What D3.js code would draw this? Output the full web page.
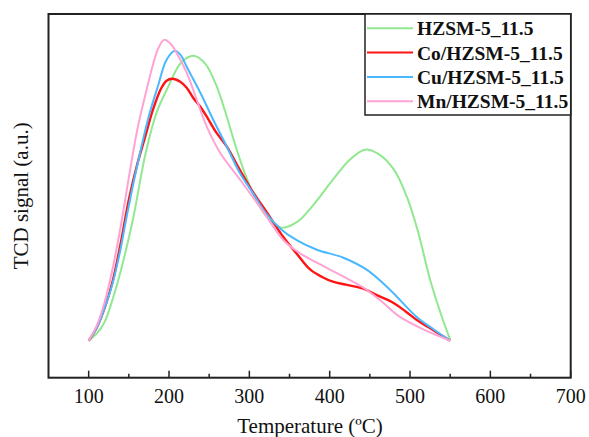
<!DOCTYPE html>
<html><head><meta charset="utf-8">
<script src="https://cdn.jsdelivr.net/npm/d3@7"></script>
<style>body{margin:0;background:#fff}</style>
</head><body>
<svg id="c" width="589" height="437"></svg>
<script>
const seriesNames = ["HZSM-5_11.5","Co/HZSM-5_11.5","Cu/HZSM-5_11.5","Mn/HZSM-5_11.5"];
const seriesColors = ["#90e890","#ff1414","#4ab8ff","#ffa3d4"];
const xTicks = [100,200,300,400,500,600,700];
// [temperature °C, TCD signal a.u.]
const hzsm = [[100,37],[110,44],[120,56],[130,79],[140,107],[155,158],[171,225],[185,266],[199,291],[215,315],[231,322],[245,314],[258,294],[270,266],[282,234],[295,203],[310,175],[325,158],[340,150],[360,156],[380,173],[404,198],[425,218],[444,228],[460,224],[480,208],[496,181],[510,146],[525,98],[540,60],[550,38]];
const coHzsm = [[100,37],[110,50],[120,70],[130,97],[140,135],[150,178],[160,212],[170,240],[180,268],[190,289],[197,297],[204,299],[214,296],[222,290],[230,280],[239,271],[247,261],[259,245],[272,231],[288,208],[305,185],[322,165],[342,141],[360,123],[376,108],[390,101],[404,96],[420,93],[442,89],[460,82],[479,75],[495,66],[508,58],[530,47],[550,37]];
const cuHzsm = [[100,37],[110,50],[120,70],[130,95],[140,130],[147,160],[155,192],[164,225],[175,262],[186,291],[197,318],[207.5,327],[215,322],[222,311],[239,285],[255,258],[272,231],[288,205],[305,184],[320,165],[340,148],[360,137],[384,128],[417,120],[446,108],[475,88],[508,61],[530,48],[550,37]];
const mnHzsm = [[100,37],[110,52],[120,76],[130,110],[140,152],[150,200],[160,246],[170,281],[180,313],[187,330],[194,338],[202,334],[210,324],[222,305],[234.5,278],[247,251],[263.6,225],[288.5,198],[313,171],[342,138],[360,126],[384,115],[415,102],[442,90],[465,76],[487,61],[520,47],[550,37]];
const allSeries = [hzsm, coHzsm, cuHzsm, mnHzsm];

const svg = d3.select("#c");
const L=48.5, R=570.7, T=14, B=377.7;
const x = d3.scaleLinear().domain([50,700]).range([L,R]);
const y = d3.scaleLinear().domain([0,363.7]).range([B,T]);
const FONT = "'Liberation Serif','Times New Roman',serif";

const line = d3.line().x(d=>x(d[0])).y(d=>y(d[1])).curve(d3.curveCatmullRom.alpha(0.5));
const widths=[2,2.4,2,2];
allSeries.forEach((s,i)=>{
  svg.append("path").attr("d",line(s)).attr("fill","none")
    .attr("stroke",seriesColors[i]).attr("stroke-width",widths[i]);
});

// x axis with inward ticks
const gx = svg.append("g").attr("transform",`translate(0,${B})`);
const majors = d3.range(100,701,100), minors = d3.range(150,700,100);
gx.selectAll("line.maj").data(majors).enter().append("line")
  .attr("x1",d=>x(d)).attr("x2",d=>x(d)).attr("y1",0).attr("y2",-7)
  .attr("stroke","#222").attr("stroke-width",1.5);
gx.selectAll("line.min").data(minors).enter().append("line")
  .attr("x1",d=>x(d)).attr("x2",d=>x(d)).attr("y1",0).attr("y2",-4)
  .attr("stroke","#222").attr("stroke-width",1.5);
gx.selectAll("text").data(xTicks).enter().append("text")
  .attr("x",d=>x(d)).attr("y",25.5).attr("text-anchor","middle")
  .attr("font-family",FONT).attr("font-size",20)
  .attr("fill","#111").text(d=>d);

// frame
svg.append("rect").attr("x",L).attr("y",T).attr("width",R-L).attr("height",B-T)
  .attr("fill","none").attr("stroke","#222").attr("stroke-width",2);

svg.append("text").attr("x",310).attr("y",433).attr("text-anchor","middle")
  .attr("font-family",FONT).attr("font-size",21)
  .attr("fill","#111").text("Temperature (ºC)");
svg.append("text").attr("transform",`translate(28,${(T+B)/2}) rotate(-90)`).attr("text-anchor","middle")
  .attr("font-family",FONT).attr("font-size",21)
  .attr("fill","#111").text("TCD signal (a.u.)");

// legend
const lg = svg.append("g");
lg.append("rect").attr("x",365).attr("y",T).attr("width",R-365).attr("height",101)
  .attr("fill","#fff").attr("stroke","#222").attr("stroke-width",1.5);
seriesNames.forEach((n,i)=>{
  const cy = 28.3 + i*24.3;
  lg.append("line").attr("x1",367).attr("x2",413).attr("y1",cy).attr("y2",cy)
    .attr("stroke",seriesColors[i]).attr("stroke-width",2);
  lg.append("text").attr("x",417).attr("y",cy+7).attr("font-weight","bold")
    .attr("font-family",FONT).attr("font-size",19.5)
    .attr("fill","#111").text(n);
});
</script>
</body></html>
